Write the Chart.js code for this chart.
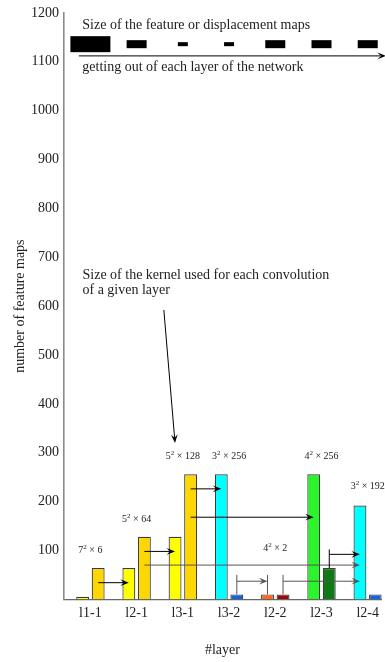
<!DOCTYPE html>
<html>
<head>
<meta charset="utf-8">
<script src="https://cdn.jsdelivr.net/npm/chart.js"></script>
<style>
  html, body { margin: 0; padding: 0; background: #fff; overflow: hidden; }
  #wrap { width: 385px; height: 662px; position: relative; }
</style>
</head>
<body>
<div id="wrap"><canvas id="chart"></canvas></div>
<script>
// datos del grafico
var layers = ["l1-1", "l2-1", "l3-1", "l3-2", "l2-2", "l2-3", "l2-4"];
var firstMaps = [5, 64, 128, 256, 10, 256, 192];
var secondMaps = [64, 128, 256, 10, 10, 64, 10];
var firstColors = ["#ffff00", "#ffff00", "#ffff00", "#00ffff", "#ff6a1a", "#2af52a", "#00ffff"];
var secondColors = ["#ffd700", "#ffd700", "#ffd700", "#1565e0", "#9b0a0a", "#0f7a14", "#1565e0"];
var kernelSizes = [7, 5, 5, 3, 4, 4, 3];
var kernelCounts = [6, 64, 128, 256, 2, 256, 192];
var mapSizes = [32, 16, 8, 8, 16, 16, 16];
var yTicks = [100, 200, 300, 400, 500, 600, 700, 800, 900, 1000, 1100, 1200];

// anotaciones (posiciones en unidades de los ejes)
var kernelLabelY = [95, 158, 288, 288, 99, 288, 225];
var arrows = [
  { from: [0, 1], to: [1, 0], y: 34 },
  { from: [1, 1], to: [2, 0], y: 98 },
  { from: [1, 1], to: [6, 0], y: 70, color: "#555" },
  { from: [2, 1], to: [3, 0], y: 226 },
  { from: [2, 1], to: [5, 0], y: 168 },
  { from: [3, 1], to: [4, 0], y: 37, stem: 50, color: "#555" },
  { from: [4, 1], to: [6, 0], y: 37, stem: 50, color: "#555" },
  { from: [5, 1], to: [6, 0], y: 92, stem: 102 }
];

var serif = '"Liberation Serif", "DejaVu Serif", serif';

function arrowHead(ctx, x, y, dx, dy, color) {
  var len = Math.hypot(dx, dy);
  var ux = dx / len, uy = dy / len;
  var L = 8.5, W = 3.4;
  ctx.beginPath();
  ctx.moveTo(x, y);
  ctx.lineTo(x - ux * L - uy * W, y - uy * L + ux * W);
  ctx.lineTo(x - ux * L * 0.6, y - uy * L * 0.6);
  ctx.lineTo(x - ux * L + uy * W, y - uy * L - ux * W);
  ctx.closePath();
  ctx.fillStyle = color;
  ctx.fill();
}

function line(ctx, x1, y1, x2, y2, color) {
  ctx.beginPath();
  ctx.moveTo(x1, y1);
  ctx.lineTo(x2, y2);
  ctx.strokeStyle = color;
  ctx.lineWidth = 1;
  ctx.stroke();
}

function drawKernel(ctx, k, n, cx, y) {
  var parts = [[String(k), "10px " + serif, 0], ["2", "7px " + serif, -4], [" \u00d7 " + n, "10px " + serif, 0]];
  var w = 0;
  parts.forEach(function (p) { ctx.font = p[1]; w += ctx.measureText(p[0]).width; });
  var x = cx - w / 2;
  ctx.fillStyle = "#222";
  ctx.textAlign = "left";
  ctx.textBaseline = "alphabetic";
  parts.forEach(function (p) {
    ctx.font = p[1];
    ctx.fillText(p[0], x, y + p[2]);
    x += ctx.measureText(p[0]).width;
  });
}

var annotations = {
  id: "annotations",
  afterDatasetsDraw: function (chart) {
    var ctx = chart.ctx;
    var xs = chart.scales.x, ys = chart.scales.y;
    var X = function (v) { return xs.getPixelForValue(v); };
    var Y = function (v) { return ys.getPixelForValue(v); };
    ctx.save();

    // flechas entre capas
    arrows.forEach(function (a) {
      var c = a.color || "#000";
      var src = chart.getDatasetMeta(a.from[1]).data[a.from[0]];
      var dst = chart.getDatasetMeta(a.to[1]).data[a.to[0]];
      var ly = Y(a.y);
      if (a.stem) {
        line(ctx, src.x, src.y, src.x, Y(a.stem), c);
        if (dst.y > ly) line(ctx, dst.x, dst.y, dst.x, Y(a.stem), c);
      }
      line(ctx, src.x, ly, dst.x - 4, ly, c);
      arrowHead(ctx, dst.x, ly, 1, 0, c);
    });

    // etiquetas de los kernels
    for (var i = 0; i < layers.length; i++) {
      drawKernel(ctx, kernelSizes[i], kernelCounts[i], X(i), Y(kernelLabelY[i]));
    }

    // mapas de caracteristicas
    ctx.fillStyle = "#000";
    for (var j = 0; j < layers.length; j++) {
      var w = mapSizes[j] * 1.25, h = mapSizes[j] * 0.5;
      ctx.fillRect(X(j) - w / 2, Y(1136) - h / 2, w, h);
    }
    line(ctx, X(-0.25), Y(1112), 380, Y(1112), "#000");
    arrowHead(ctx, 386, Y(1112), 1, 0, "#000");

    ctx.fillStyle = "#222";
    ctx.textAlign = "left";
    ctx.textBaseline = "alphabetic";
    ctx.font = "14px " + serif;
    ctx.fillText("Size of the feature or displacement maps", X(-0.175), Y(1168));
    ctx.fillText("getting out of each layer of the network", X(-0.175), Y(1082));
    ctx.fillText("Size of the kernel used for each convolution", X(-0.171), Y(655));
    ctx.fillText("of a given layer", X(-0.171), Y(624.5));

    var x1 = X(1.589), y1 = Y(592), x2 = X(1.831), y2 = Y(320);
    line(ctx, x1, y1, x2 - (x2 - x1) * 0.02, y2 - (y2 - y1) * 0.02, "#000");
    arrowHead(ctx, x2, y2, x2 - x1, y2 - y1, "#000");

    ctx.restore();
  }
};

var ctx = document.getElementById("chart").getContext("2d");

var data = {
  datasets: [
    {
      data: layers.map(function (l, i) { return { x: i, y: firstMaps[i] }; }),
      backgroundColor: firstColors,
      borderColor: "#3c3c3c",
      borderWidth: 1.2,
      categoryPercentage: 0.672,
      barPercentage: 0.83
    },
    {
      data: layers.map(function (l, i) { return { x: i, y: secondMaps[i] }; }),
      backgroundColor: secondColors,
      borderColor: "#3c3c3c",
      borderWidth: 1.2,
      categoryPercentage: 0.672,
      barPercentage: 0.83
    }
  ]
};

var options = {
  responsive: true,
  maintainAspectRatio: false,
  animation: false,
  layout: { padding: { top: 11, left: 0, right: 0, bottom: 0 } },
  plugins: { legend: { display: false }, tooltip: { enabled: false } },
  scales: {
    x: {
      type: "linear",
      offset: false,
      min: -0.582,
      max: 6.295,
      grid: { display: false, drawTicks: false },
      border: { display: true, color: "#666", width: 1.2 },
      afterBuildTicks: function (axis) { axis.ticks = layers.map(function (l, i) { return { value: i }; }); },
      afterFit: function (axis) { axis.height = 62.7; },
      ticks: {
        autoSkip: false,
        maxRotation: 0,
        padding: 6,
        color: "#222",
        font: { family: serif, size: 14 },
        callback: function (v) { return layers[v] !== undefined ? layers[v] : ""; }
      },
      title: { display: true, text: "#layer", color: "#222", font: { family: serif, size: 14 }, padding: { top: 0, bottom: 3 } }
    },
    y: {
      min: 0,
      max: 1200,
      grid: { display: false, drawTicks: false },
      border: { display: true, color: "#8a8a8a", width: 1.6 },
      afterBuildTicks: function (axis) { axis.ticks = yTicks.map(function (v) { return { value: v }; }); },
      afterFit: function (axis) { axis.width = 63.5; },
      ticks: { padding: 4.5, color: "#222", font: { family: serif, size: 14 }, callback: function (v) { return String(v); } },
      title: { display: true, text: "number of feature maps", color: "#222", font: { family: serif, size: 14 }, padding: { top: 11.9, bottom: 0 } }
    }
  }
};

var myChart = new Chart(ctx, {
  type: "bar",
  data: data,
  options: options,
  plugins: [annotations]
});
</script>
</body>
</html>
